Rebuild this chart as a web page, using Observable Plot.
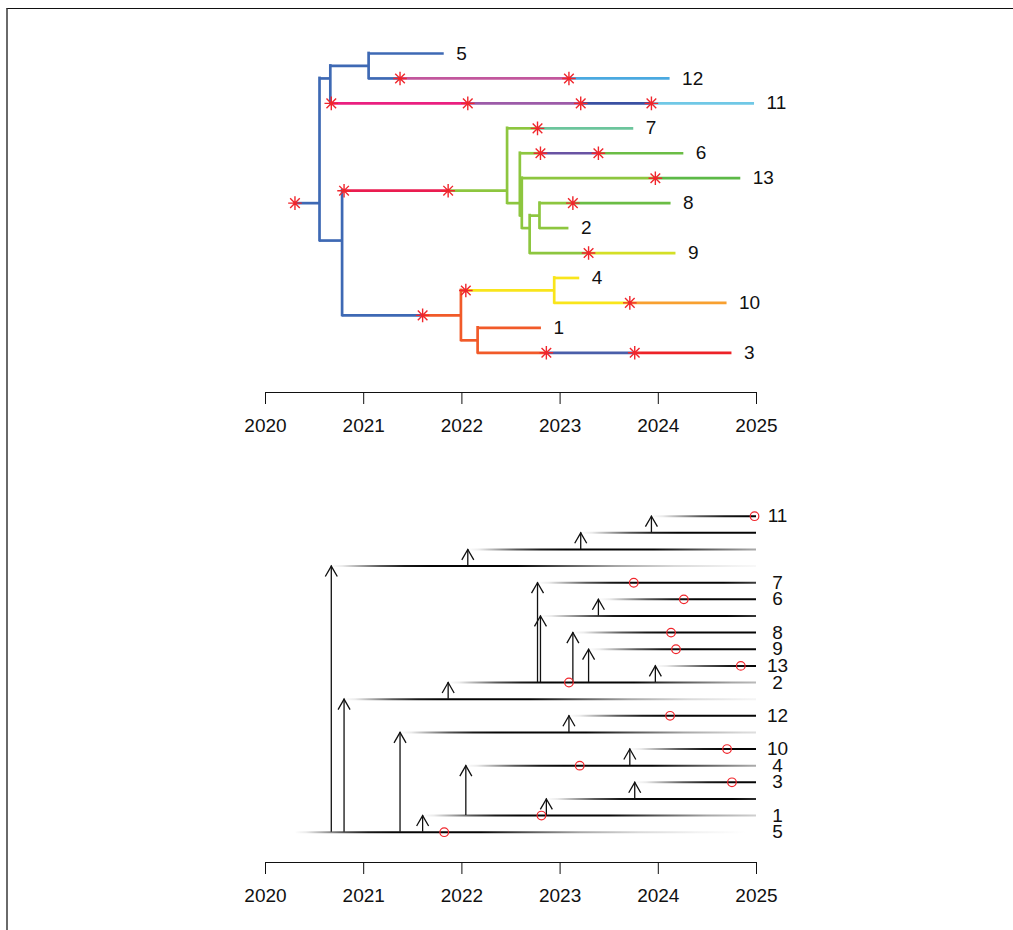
<!DOCTYPE html>
<html><head><meta charset="utf-8">
<script src="https://cdn.jsdelivr.net/npm/d3@7"></script>
<script src="https://cdn.jsdelivr.net/npm/@observablehq/plot@0.6"></script>
<style>
html,body{margin:0;padding:0;background:#fff;}
#wrap{position:relative;width:1013px;height:930px;overflow:hidden;}
#frame{position:absolute;left:6px;top:8px;width:1100px;height:1000px;border-top:1px solid #111;border-left:2px solid #6a6a6a;z-index:5;pointer-events:none;}
#topPlot,#bottomPlot{position:absolute;left:0;}
#topPlot{top:0;}
#bottomPlot{top:465px;}
</style></head><body>
<div id="wrap"><div id="topPlot"></div><div id="bottomPlot"></div><div id="frame"></div></div>
<script>
// ---------- data ----------
const years = [2020, 2021, 2022, 2023, 2024, 2025];
const plotEnd = 2025;

// hosts of the transmission tree, top row to bottom row ("u*" = unsampled)
const hostId       = ["11","u1","u2","u3","7","6","u4","8","9","13","2","u5","12","u6","10","4","3","u7","1","5"];
const hostInfected = [2023.93,2023.21,2022.06,2020.67,2022.77,2023.39,2022.80,2023.13,2023.29,2023.97,2021.86,2020.80,2023.09,2021.37,2023.71,2022.04,2023.76,2022.86,2021.60,2020.30];
const hostInfector = ["u1","u2","u3","5","2","u4","2","2","2","2","u5","5","u6","5","4","1","u7","1","5",null];
const hostSampled  = [2024.98,null,null,null,2023.75,2024.26,null,2024.13,2024.18,2024.84,2023.09,null,2024.12,null,2024.70,2023.20,2024.75,null,2022.81,2021.82];
// branch of the phylogeny on which each host's infection lies
const infectionBranch = ["11","11","11","11","7","6","6","8","9","13","C","C","12","12","10","D1","3","3","D","r"];

// phylogeny: internal nodes
const nodeId     = ["r","A","E","B","C","C2","C3","C4","C5","D","D1","D2"];
const nodeParent = [null,"r","A","r","B","C","C2","C3","C4","B","D","D"];
const nodeTime   = [2020.55,2020.66,2021.05,2020.78,2022.46,2022.59,2022.61,2022.69,2022.79,2021.99,2022.94,2022.16];
const nodeHost   = ["5","5","5","5","2","2","2","2","2","1","4","1"];
// phylogeny: tips, top to bottom
const tipOrder  = ["5","12","11","7","6","13","8","2","9","4","10","1","3"];
const tipParent = ["E","E","A","C","C2","C3","C5","C5","C4","D1","D1","D2","D2"];

// infectiousness shading profile (years since infection -> grey level)
const profileYears = [0,0.12,0.3,0.5,0.75,1.0,1.9,2.4,2.9,3.5,4.1,4.6];
const profileGrey  = [1,0.92,0.65,0.35,0.1,0.02,0.02,0.35,0.65,0.85,0.95,1];

// ---------- styles ----------
const hostColor = ["#70c8e6","#3a50a2","#9c5ba8","#ea2080","#6cc59c","#6bbd45","#6953a3","#6bbd45","#d4df26","#5cb947","#8dc63f","#ea1d50","#4aa9e0","#c2579d","#f8a030","#f9e51b","#ed2227","#4a5ea9","#f15a29","#3e69b4"];

(function(){
const font = "'Liberation Sans', Arial, Helvetica, sans-serif";

// ---------- derived ----------
const colorOf = Object.fromEntries(hostId.map((h,i)=>[h,hostColor[i]]));
const sampledOf = Object.fromEntries(hostId.map((h,i)=>[h,hostSampled[i]]));
const rowOf = Object.fromEntries(hostId.map((h,i)=>[h,i]));

const nodes = new Map();
nodeId.forEach((id,i)=>nodes.set(id,{id,parent:nodeParent[i],time:nodeTime[i],host:nodeHost[i],children:[]}));
tipOrder.forEach((id,i)=>nodes.set(id,{id,parent:tipParent[i],time:sampledOf[id],host:id,tipIndex:i,children:[]}));
for (const n of nodes.values()) if (n.parent) nodes.get(n.parent).children.push(n);
const tipsOf = n => n.children.length ? n.children.flatMap(tipsOf) : [n.tipIndex];
for (const n of nodes.values()) n.y = d3.mean(tipsOf(n));

const segs = [], verts = [], stars = [];
for (const n of nodes.values()) {
  const events = hostId.map((h,i)=>({h,t:hostInfected[i],b:infectionBranch[i]}))
    .filter(e=>e.b===n.id).sort((a,b)=>a.t-b.t);
  let start, col;
  if (n.parent) { const p = nodes.get(n.parent); start = p.time; col = colorOf[p.host]; }
  else { start = events[0].t; col = colorOf[n.host]; }
  for (const e of events) {
    if (e.t > start) segs.push({x1:start,x2:e.t,y:n.y,color:col});
    stars.push({x:e.t,y:n.y});
    start = e.t; col = colorOf[e.h];
  }
  segs.push({x1:start,x2:n.time,y:n.y,color:col});
  if (n.children.length) {
    const cy = n.children.map(c=>c.y);
    verts.push({x:n.time,y1:d3.min(cy),y2:d3.max(cy),color:colorOf[n.host]});
  }
}
const tips = tipOrder.map(id=>({x:nodes.get(id).time,y:nodes.get(id).y,label:id}));

const rows = hostId.map((h,i)=>({row:i,id:h,label:h.startsWith("u")?"":h,inf:hostInfected[i],end:plotEnd,sampled:hostSampled[i]}));
const trans = hostId.map((h,i)=>({t:hostInfected[i],from:hostInfector[i]==null?null:rowOf[hostInfector[i]],to:i})).filter(d=>d.from!=null);

// ---------- symbols ----------
const asterisk = {draw(ctx,size){const r=Math.sqrt(size/Math.PI),d=r*Math.SQRT1_2;
  ctx.moveTo(-r,0);ctx.lineTo(r,0);ctx.moveTo(0,-r);ctx.lineTo(0,r);
  ctx.moveTo(-d,-d);ctx.lineTo(d,d);ctx.moveTo(-d,d);ctx.lineTo(d,-d);}};
const caret = {draw(ctx,size){const r=Math.sqrt(size/Math.PI);
  ctx.moveTo(-0.5*r,0.87*r);ctx.lineTo(0,0);ctx.lineTo(0.5*r,0.87*r);}};

const xAxis = {domain:[2020,2025],ticks:years,tickFormat:d=>String(d),tickSize:12,tickPadding:14,line:true,label:null};
const style = {fontSize:"19px",fontFamily:font,color:"#111",background:"transparent",overflow:"visible"};

// ---------- top: phylogeny ----------
const topChart = Plot.plot({
  width:1013,height:465,marginLeft:265,marginRight:257,marginTop:20,marginBottom:73,
  x:xAxis,
  y:{domain:[0,12],range:[53,352.3],axis:null},
  color:{type:"identity"},
  style,
  marks:[
    Plot.ruleX(verts,{x:"x",y1:"y1",y2:"y2",stroke:"color",strokeWidth:2.7,strokeLinecap:"square"}),
    Plot.ruleY(segs,{y:"y",x1:"x1",x2:"x2",stroke:"color",strokeWidth:2.7,strokeLinecap:"butt"}),
    Plot.dot(stars,{x:"x",y:"y",symbol:asterisk,r:6.8,stroke:"#f0262c",strokeWidth:1.4,fill:"none"}),
    Plot.text(tips,{x:"x",y:"y",text:"label",dx:12,textAnchor:"start",fontSize:19,fill:"#111"})
  ]
});
document.getElementById("topPlot").appendChild(topChart);

// ---------- bottom: transmission tree ----------
function gradientDefs(index, scales) {
  const ns = "http://www.w3.org/2000/svg";
  const defs = document.createElementNS(ns,"defs");
  const span = profileYears[profileYears.length-1];
  rows.forEach(r=>{
    const g = document.createElementNS(ns,"linearGradient");
    g.setAttribute("id","hg"+r.row);
    g.setAttribute("gradientUnits","userSpaceOnUse");
    g.setAttribute("x1",scales.x(r.inf)); g.setAttribute("x2",scales.x(r.inf+span));
    g.setAttribute("y1",0); g.setAttribute("y2",0);
    profileYears.forEach((t,k)=>{
      const s = document.createElementNS(ns,"stop");
      s.setAttribute("offset",t/span);
      const v = Math.round(255*profileGrey[k]);
      s.setAttribute("stop-color",`rgb(${v},${v},${v})`);
      g.appendChild(s);
    });
    defs.appendChild(g);
  });
  return defs;
}
const bottomChart = Plot.plot({
  width:1013,height:465,marginLeft:265,marginRight:257,marginTop:20,marginBottom:68,
  x:xAxis,
  y:{domain:[0,19],range:[50.7,366.7],axis:null},
  color:{type:"identity"},
  style,
  marks:[
    gradientDefs,
    Plot.ruleY(rows,{y:"row",x1:"inf",x2:"end",stroke:d=>`url(#hg${d.row})`,strokeWidth:2}),
    Plot.ruleX(trans,{x:"t",y1:"from",y2:"to",stroke:"#111",strokeWidth:1.3}),
    Plot.dot(trans,{x:"t",y:"to",symbol:caret,r:12,stroke:"#111",strokeWidth:1.3,fill:"none"}),
    Plot.dot(rows.filter(d=>d.sampled!=null),{x:"sampled",y:"row",r:4.3,stroke:"#f0262c",strokeWidth:1.2,fill:"none"}),
    Plot.text(rows.filter(d=>d.label),{x:"end",y:"row",text:"label",dx:21,textAnchor:"middle",fontSize:19,fill:"#111"})
  ]
});
document.getElementById("bottomPlot").appendChild(bottomChart);
})();
</script></body></html>
